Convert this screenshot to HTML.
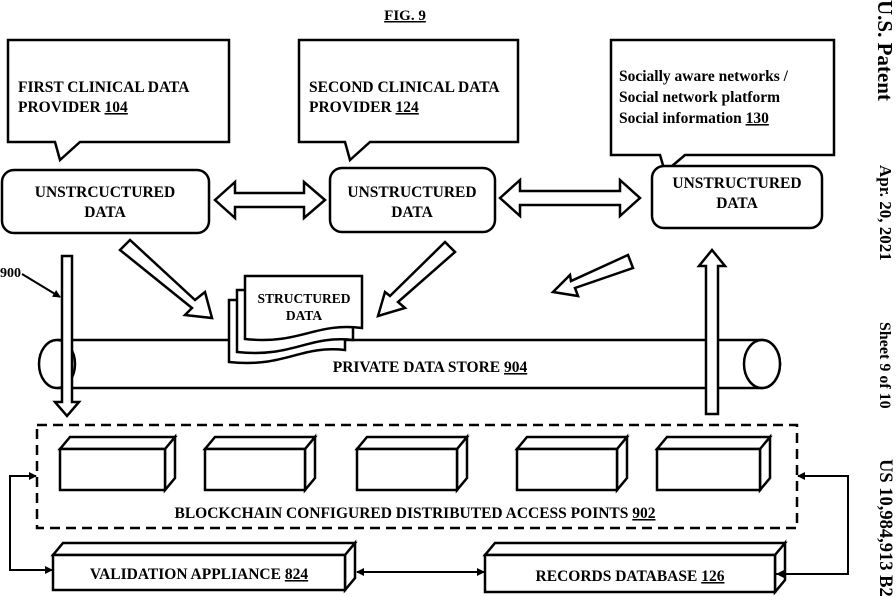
<!DOCTYPE html>
<html><head><style>body{margin:0;background:#fff}svg{display:block}text{font-family:"Liberation Serif",serif;font-weight:bold;fill:#000}</style></head>
<body>
<svg width="896" height="597" viewBox="0 0 896 597" xmlns="http://www.w3.org/2000/svg">
<defs><marker id="ah" markerWidth="8" markerHeight="8" refX="7" refY="4" orient="auto" markerUnits="userSpaceOnUse"><path d="M0,0 L8,4 L0,8 Z" fill="#000"/></marker></defs>
<g stroke="#000" stroke-width="2.5" fill="#fff">
<text x="405" y="20" font-size="15" text-anchor="middle" stroke="none" text-decoration="underline">FIG. 9</text>
<path d="M8,40 H229 V142 H80 L60,160 L55,142 H8 Z"/>
<path d="M299,40 H518 V142 H370 L350,160 L345,142 H299 Z"/>
<path d="M611,40 H834 V155 H685 L665,172 L660,155 H611 Z"/>
<g stroke="none" font-size="15.5">
<text x="18" y="92">FIRST CLINICAL DATA</text><text x="18" y="112">PROVIDER <tspan text-decoration="underline">104</tspan></text>
<text x="309" y="92">SECOND CLINICAL DATA</text><text x="309" y="112">PROVIDER <tspan text-decoration="underline">124</tspan></text>
<text x="619" y="81">Socially aware networks /</text><text x="619" y="102">Social network platform</text><text x="619" y="123">Social information <tspan text-decoration="underline">130</tspan></text>
</g>
<rect x="2" y="170" width="207" height="63" rx="12"/>
<rect x="330" y="168" width="165" height="64" rx="12"/>
<rect x="652" y="166" width="170" height="62" rx="12"/>
<g stroke="none" font-size="15.5" text-anchor="middle">
<text x="105" y="197">UNSTRCUCTURED</text><text x="105" y="217">DATA</text>
<text x="412" y="197">UNSTRUCTURED</text><text x="412" y="217">DATA</text>
<text x="737" y="188">UNSTRUCTURED</text><text x="737" y="208">DATA</text>
</g>
<path d="M215,200 L235,182 V193 H304 V182 L325,200 L304,218 V207 H235 V218 Z"/>
<path d="M500,198 L520,180 V191 H620 V180 L640,198 L620,216 V205 H520 V216 Z"/>
<path d="M57,340 H762 A18,24 0 0 1 762,388 H57"/>
<ellipse cx="57" cy="364" rx="18" ry="24"/>
<ellipse cx="762" cy="364" rx="18" ry="24"/>
<text x="430" y="372" font-size="15.5" text-anchor="middle" stroke="none">PRIVATE DATA STORE <tspan text-decoration="underline">904</tspan></text>
<path d="M229,300 H345 V350 C300,345 285,368 229,362 Z"/>
<path d="M237,290 H353 V340 C308,335 293,358 237,352 Z"/>
<path d="M245,276 H362 V328 C315,322 300,345 245,339 Z"/>
<text x="304" y="303" font-size="13.5" text-anchor="middle" stroke="none">STRUCTURED</text>
<text x="304" y="320" font-size="13.5" text-anchor="middle" stroke="none">DATA</text>
<path d="M62,256 H72 V402 H79 L67,416 L55,402 H62 Z"/>
<path d="M706,414 V266 H699 L712,250 L725,266 H718 V414 Z"/>
<path d="M120,250 L130,240 L195,300 L205,292 L212,318 L185,315 L192,308 Z"/>
<path d="M445,242 L455,252 L398,302 L405,308 L378,316 L385,292 L390,296 Z"/>
<path d="M628,255 L633,268 L575,288 L578,296 L553,292 L570,275 L571,281 Z"/>
<text x="0" y="277" font-size="14" stroke="none">900</text>
<line x1="22" y1="274" x2="60" y2="297" stroke-width="2" marker-end="url(#ah)"/>
<rect x="37" y="425" width="760" height="103" fill="none" stroke-dasharray="10,6"/>
<g>
<path d="M60,449 L70,437 H175 L165,449 Z M165,449 L175,437 V478 L165,490 Z"/><rect x="60" y="449" width="105" height="41"/>
<path d="M205,449 L215,437 H315 L305,449 Z M305,449 L315,437 V478 L305,490 Z"/><rect x="205" y="449" width="100" height="41"/>
<path d="M357,449 L367,437 H467 L457,449 Z M457,449 L467,437 V478 L457,490 Z"/><rect x="357" y="449" width="100" height="41"/>
<path d="M517,449 L527,437 H627 L617,449 Z M617,449 L627,437 V478 L617,490 Z"/><rect x="517" y="449" width="100" height="41"/>
<path d="M657,449 L667,437 H770 L760,449 Z M760,449 L770,437 V478 L760,490 Z"/><rect x="657" y="449" width="103" height="41"/>
</g>
<text x="415" y="518" font-size="15.5" text-anchor="middle" stroke="none">BLOCKCHAIN CONFIGURED DISTRIBUTED ACCESS POINTS <tspan text-decoration="underline">902</tspan></text>
<path d="M53,555 L63,543 H355 L345,555 Z M345,555 L355,543 V578 L345,590 Z"/><rect x="53" y="555" width="292" height="35"/>
<path d="M485,555 L495,543 H785 L775,555 Z M775,555 L785,543 V580 L775,592 Z"/><rect x="485" y="555" width="290" height="37"/>
<text x="199" y="579" font-size="15.5" text-anchor="middle" stroke="none">VALIDATION APPLIANCE <tspan text-decoration="underline">824</tspan></text>
<text x="630" y="581" font-size="15.5" text-anchor="middle" stroke="none">RECORDS DATABASE <tspan text-decoration="underline">126</tspan></text>
<g fill="none" stroke-width="2">
<path d="M36,476 H10 V570 H52" marker-end="url(#ah)"/>
<line x1="20" y1="476" x2="36" y2="476" marker-end="url(#ah)"/>
<path d="M776,574 H848 V476 H798" marker-end="url(#ah)"/>
<line x1="840" y1="574" x2="777" y2="574" marker-end="url(#ah)"/>
<line x1="360" y1="572" x2="484" y2="572" marker-end="url(#ah)"/>
<line x1="470" y1="572" x2="357" y2="572" marker-end="url(#ah)"/>
</g>
</g>
<text transform="translate(878,0) rotate(90)" font-size="21">U.S. Patent</text>
<text transform="translate(880,165) rotate(90)" font-size="17">Apr. 20, 2021</text>
<text transform="translate(880,322) rotate(90)" font-size="16">Sheet 9 of 10</text>
<text transform="translate(880,459) rotate(90)" font-size="18.5">US 10,984,913 B2</text>
</svg>
</body></html>
